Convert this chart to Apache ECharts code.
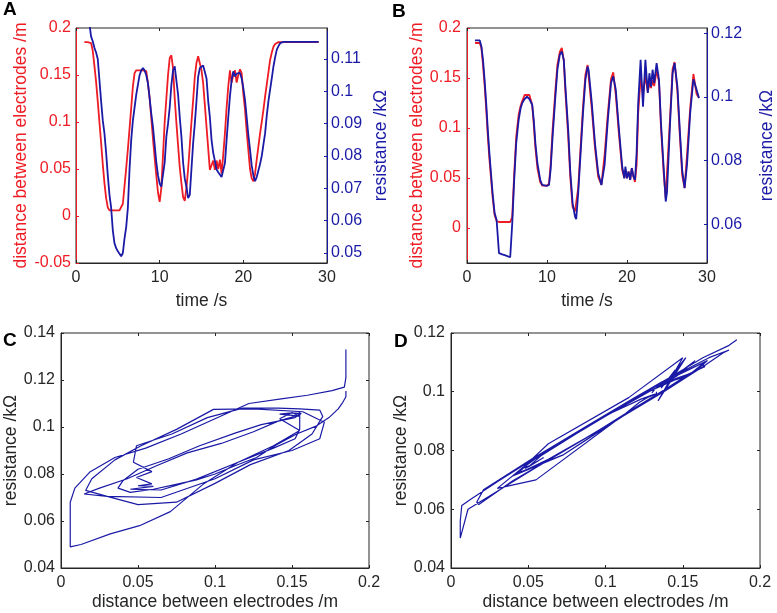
<!DOCTYPE html>
<html><head><meta charset="utf-8">
<script src="https://cdn.jsdelivr.net/npm/echarts@6.0.0/dist/echarts.min.js"></script>
<style>html,body{margin:0;padding:0;background:#fff}#c{width:777px;height:613px}</style>
</head><body><div id="c"></div>
<script>
// ---------- Panel A data (time /s, distance /m, resistance /kOhm) ----------
const timeA = [1.0,1.2,1.4,1.6,1.8,2.0,2.2,2.4,2.6,2.8,3.0,3.2,3.4,3.6,3.8,4.0,4.2,4.4,4.6,4.8,5.0,5.2,5.4,5.6,5.8,6.0,6.2,6.4,6.6,6.8,7.0,7.2,7.4,7.6,7.8,8.0,8.2,8.4,8.6,8.8,9.0,9.2,9.4,9.6,9.8,10.0,10.2,10.4,10.6,10.8,11.0,11.2,11.4,11.6,11.8,12.0,12.2,12.4,12.6,12.8,13.0,13.2,13.4,13.6,13.8,14.0,14.2,14.4,14.6,14.8,15.0,15.2,15.4,15.6,15.8,16.0,16.2,16.4,16.6,16.8,17.0,17.2,17.4,17.6,17.8,18.0,18.2,18.4,18.6,18.8,19.0,19.2,19.4,19.6,19.8,20.0,20.2,20.4,20.6,20.8,21.0,21.2,21.4,21.6,21.8,22.0,22.2,22.4,22.6,22.8,23.0,23.2,23.4,23.6,23.8,24.0,24.2,24.4,24.8,29.0];
const distA = [0.185,0.185,0.185,0.185,0.184,0.176,0.160,0.143,0.122,0.100,0.078,0.055,0.035,0.019,0.009,0.006,0.006,0.006,0.006,0.006,0.006,0.006,0.006,0.013,0.032,0.051,0.071,0.093,0.115,0.138,0.152,0.155,0.155,0.155,0.155,0.155,0.155,0.154,0.141,0.125,0.104,0.082,0.062,0.043,0.025,0.015,0.030,0.065,0.100,0.125,0.150,0.168,0.171,0.157,0.125,0.099,0.075,0.052,0.035,0.020,0.016,0.030,0.050,0.075,0.100,0.123,0.148,0.163,0.170,0.168,0.155,0.141,0.118,0.095,0.072,0.049,0.047,0.059,0.049,0.059,0.050,0.060,0.045,0.065,0.088,0.115,0.138,0.155,0.142,0.150,0.155,0.142,0.150,0.156,0.152,0.130,0.113,0.090,0.070,0.050,0.040,0.037,0.045,0.060,0.074,0.088,0.100,0.113,0.127,0.140,0.153,0.166,0.174,0.180,0.183,0.185,0.185,0.185,0.185,0.185];
const resA = [0.133,0.130,0.126,0.121,0.117,0.1155,0.1135,0.112,0.110,0.1035,0.097,0.091,0.087,0.081,0.074,0.068,0.064,0.057,0.053,0.0515,0.0505,0.050,0.049,0.050,0.0545,0.058,0.064,0.076,0.085,0.091,0.095,0.099,0.102,0.105,0.1065,0.1072,0.1065,0.105,0.1025,0.098,0.093,0.089,0.0835,0.078,0.074,0.0715,0.0705,0.070,0.078,0.086,0.090,0.095,0.102,0.1065,0.1077,0.1075,0.099,0.092,0.086,0.078,0.073,0.0705,0.067,0.068,0.076,0.084,0.090,0.097,0.1045,0.1072,0.1077,0.108,0.108,0.104,0.097,0.092,0.085,0.081,0.0785,0.0758,0.075,0.0747,0.0735,0.0732,0.0778,0.085,0.092,0.0985,0.1035,0.1062,0.1046,0.1055,0.106,0.1057,0.104,0.101,0.0974,0.092,0.0865,0.082,0.077,0.074,0.0722,0.0735,0.0755,0.0775,0.080,0.0835,0.087,0.0925,0.097,0.1005,0.104,0.1077,0.1105,0.1129,0.114,0.1149,0.1153,0.1153];

// ---------- Panel B data ----------
const timeB = [1.0,1.6,1.8,2.0,2.2,2.4,2.6,2.8,3.0,3.2,3.45,3.7,3.85,4.0,4.4,4.8,5.0,5.4,5.5,5.65,5.9,6.15,6.45,6.7,6.9,7.2,7.5,7.8,8.0,8.15,8.35,8.55,8.8,9.15,9.4,9.95,10.25,10.45,10.7,11.05,11.3,11.6,11.85,12.1,12.3,12.65,12.9,13.2,13.5,13.65,13.9,14.2,14.5,14.8,15.07,15.2,15.6,16.0,16.4,16.8,17.2,17.6,18.0,18.28,18.6,19.0,19.4,19.67,19.8,20.0,20.2,20.4,20.6,20.8,21.0,21.2,21.4,21.7,22.0,22.3,22.6,22.8,23.0,23.2,23.4,23.7,24.0,24.25,24.6,24.84,25.0,25.4,25.7,25.95,26.3,26.6,26.9,27.2,27.5,27.9,28.3,28.7,29.0];
const distB = [0.185,0.185,0.180,0.163,0.143,0.119,0.092,0.069,0.050,0.031,0.013,0.007,0.006,0.006,0.006,0.006,0.006,0.006,0.006,0.011,0.054,0.091,0.113,0.122,0.127,0.133,0.133,0.133,0.131,0.123,0.103,0.080,0.060,0.046,0.0425,0.0423,0.0443,0.063,0.098,0.138,0.163,0.176,0.180,0.167,0.136,0.092,0.052,0.021,0.0166,0.018,0.040,0.081,0.121,0.153,0.163,0.1643,0.119,0.080,0.051,0.0433,0.073,0.114,0.149,0.1556,0.133,0.093,0.058,0.050,0.058,0.050,0.0566,0.048,0.060,0.0516,0.046,0.063,0.115,0.150,0.134,0.152,0.136,0.145,0.140,0.148,0.142,0.158,0.146,0.100,0.053,0.030,0.055,0.113,0.159,0.166,0.137,0.093,0.053,0.040,0.073,0.120,0.154,0.134,0.130];
const resB = [0.1177,0.1177,0.1158,0.1116,0.1053,0.098,0.0896,0.0823,0.076,0.0697,0.0635,0.0613,0.0561,0.0509,0.0505,0.0502,0.0498,0.0496,0.0497,0.060,0.0739,0.0854,0.0926,0.0964,0.098,0.0993,0.1000,0.0993,0.099,0.0975,0.0926,0.0854,0.0792,0.0739,0.0723,0.072,0.0723,0.077,0.0875,0.1001,0.1085,0.1132,0.1142,0.1116,0.1032,0.0896,0.077,0.0666,0.0624,0.0616,0.0697,0.0823,0.0949,0.1053,0.1095,0.1085,0.098,0.0854,0.076,0.0723,0.0786,0.0926,0.1043,0.1064,0.1022,0.0896,0.0781,0.0744,0.0781,0.0744,0.0765,0.0739,0.0776,0.075,0.0739,0.0823,0.098,0.1116,0.0969,0.1116,0.1012,0.1074,0.1032,0.1085,0.1043,0.1106,0.1053,0.0917,0.077,0.0671,0.070,0.0926,0.1074,0.1106,0.1032,0.0896,0.077,0.0713,0.0786,0.0949,0.1055,0.1022,0.0996];

// ---------- Axis tick values ----------
const timeTicks = [0, 10, 20, 30];
const distTicksA = [-0.05, 0, 0.05, 0.1, 0.15, 0.2];
const resTicksA = [0.05, 0.06, 0.07, 0.08, 0.09, 0.1, 0.11];
const distTicksB = [0, 0.05, 0.1, 0.15, 0.2];
const resTicksB = [0.06, 0.08, 0.1, 0.12];
const distTicksCD = [0, 0.05, 0.1, 0.15, 0.2];
const resTicksC = [0.04, 0.06, 0.08, 0.1, 0.12, 0.14];
const resTicksD = [0.04, 0.06, 0.08, 0.1, 0.12];

const RED = '#ee1c24', BLUE = '#1a1aa6', DARK = '#262626';
const FONT = "'Liberation Sans', Arial, Helvetica, sans-serif";
const fmt = v => String(+(+v).toFixed(4));

function axis(o) {
  const ticks = o.ticks;
  return {
    type: 'value', gridIndex: o.grid, position: o.pos, min: o.min, max: o.max,
    name: o.name || '', nameLocation: 'middle', nameGap: o.nameGap || 0, nameRotate: o.nameRotate,
    nameTextStyle: { color: o.color || DARK, fontSize: 17.5, fontFamily: FONT },
    axisLine: { show: o.line !== false, onZero: false, lineStyle: { color: o.color || DARK, width: 1 } },
    axisTick: { show: true, inside: true, length: 3, customValues: ticks, lineStyle: { color: o.color || DARK } },
    axisLabel: { show: o.label !== false, customValues: ticks, formatter: fmt, color: o.color || DARK,
      fontSize: 16, fontFamily: FONT, margin: o.margin || 6 },
    splitLine: { show: false }
  };
}

const grids = [
  { left: 76, top: 28, width: 251, height: 235 },
  { left: 467, top: 28, width: 252, height: 235 },
  { left: 61, top: 333, width: 308, height: 235 },
  { left: 451, top: 333, width: 309, height: 235 }
].map(g => Object.assign(g, { show: true, borderColor: DARK, borderWidth: 1, backgroundColor: 'transparent', containLabel: false }));

const xAxis = [
  axis({ grid: 0, pos: 'bottom', min: 0, max: 30, ticks: timeTicks, name: 'time /s', nameGap: 29, margin: 7 }),
  axis({ grid: 0, pos: 'top', min: 0, max: 30, ticks: timeTicks, label: false, line: false }),
  axis({ grid: 1, pos: 'bottom', min: 0, max: 30, ticks: timeTicks, name: 'time /s', nameGap: 29, margin: 7 }),
  axis({ grid: 1, pos: 'top', min: 0, max: 30, ticks: timeTicks, label: false, line: false }),
  axis({ grid: 2, pos: 'bottom', min: 0, max: 0.2, ticks: distTicksCD, name: 'distance between electrodes /m', nameGap: 25, margin: 7 }),
  axis({ grid: 2, pos: 'top', min: 0, max: 0.2, ticks: distTicksCD, label: false, line: false }),
  axis({ grid: 3, pos: 'bottom', min: 0, max: 0.2, ticks: distTicksCD, name: 'distance between electrodes /m', nameGap: 25, margin: 7 }),
  axis({ grid: 3, pos: 'top', min: 0, max: 0.2, ticks: distTicksCD, label: false, line: false })
];
const yAxis = [
  axis({ grid: 0, pos: 'left', min: -0.05, max: 0.2, ticks: distTicksA, color: RED, name: 'distance between electrodes /m', nameGap: 37, nameRotate: 90, margin: 5 }),
  axis({ grid: 0, pos: 'right', min: 0.0469, max: 0.1196, ticks: resTicksA, color: BLUE, name: 'resistance /kΩ', nameGap: 45, nameRotate: 90, margin: 4 }),
  axis({ grid: 1, pos: 'left', min: -0.035, max: 0.2, ticks: distTicksB, color: RED, name: 'distance between electrodes /m', nameGap: 28, nameRotate: 90, margin: 6 }),
  axis({ grid: 1, pos: 'right', min: 0.0478, max: 0.1216, ticks: resTicksB, color: BLUE, name: 'resistance /kΩ', nameGap: 51, nameRotate: 90, margin: 4 }),
  axis({ grid: 2, pos: 'left', min: 0.04, max: 0.14, ticks: resTicksC, name: 'resistance /kΩ', nameGap: 40, nameRotate: 90, margin: 6 }),
  axis({ grid: 2, pos: 'right', min: 0.04, max: 0.14, ticks: resTicksC, label: false, line: false }),
  axis({ grid: 3, pos: 'left', min: 0.04, max: 0.12, ticks: resTicksD, name: 'resistance /kΩ', nameGap: 39, nameRotate: 90, margin: 6 }),
  axis({ grid: 3, pos: 'right', min: 0.04, max: 0.12, ticks: resTicksD, label: false, line: false })
];

function line(data, xi, yi, color, w) {
  return { type: 'line', xAxisIndex: xi, yAxisIndex: yi, data: data, showSymbol: false, symbol: 'none',
    lineStyle: { color: color, width: w }, itemStyle: { color: color }, clip: true, silent: true };
}
const series = [
  line(timeA.map((t, i) => [t, distA[i]]), 0, 0, RED, 1.8),
  line(timeA.map((t, i) => [t, resA[i]]), 0, 1, BLUE, 1.8),
  line(timeB.map((t, i) => [t, distB[i]]), 2, 2, RED, 1.8),
  line(timeB.map((t, i) => [t, resB[i]]), 2, 3, BLUE, 1.8),
  line(distA.map((d, i) => [d, resA[i]]), 4, 4, BLUE, 1.2),
  line(distB.map((d, i) => [d, resB[i]]), 6, 6, BLUE, 1.2)
];

const letter = (t, x, y) => ({ type: 'text', left: x, top: y, style: { text: t, fontSize: 19, fontWeight: 'bold', fontFamily: FONT, fill: '#000' } });

const chart = echarts.init(document.getElementById('c'), null, { renderer: 'canvas' });
chart.setOption({
  animation: false, backgroundColor: '#fff',
  grid: grids, xAxis: xAxis, yAxis: yAxis, series: series,
  graphic: [letter('A', 3, 0), letter('B', 392, 2), letter('C', 3, 331), letter('D', 394, 332)]
});
</script></body></html>
